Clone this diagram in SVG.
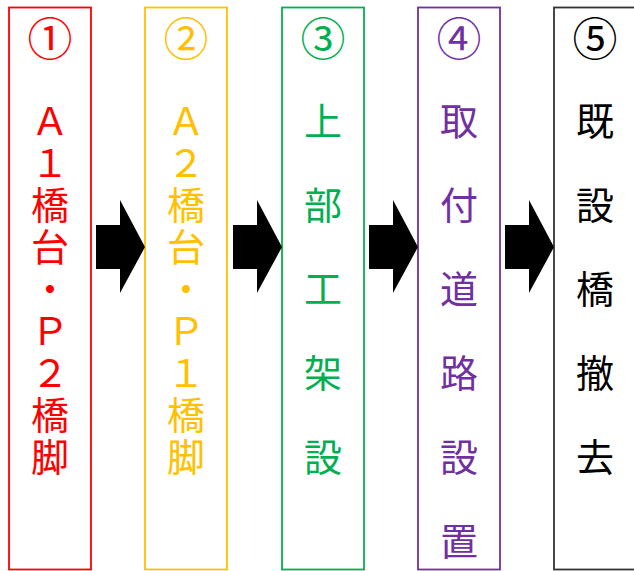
<svg xmlns="http://www.w3.org/2000/svg" width="634" height="571" viewBox="0 0 634 571">
<defs>
<style>
.box{fill:#fff;stroke-width:1.8}
.t{font-family:"Noto Sans CJK JP","Noto Sans CJK SC",sans-serif;font-size:38px;text-anchor:middle}
.n{font-size:45px}
.arrow{fill:#000}
</style>
<path id="arr" d="M0,225 H24 V200 L49,247 L24,293 V269 H0 Z"/>
</defs>
<rect width="634" height="571" fill="#fff"/>
<g id="step1">
<rect class="box" x="9" y="7.5" width="82" height="562" stroke="#FF0000"/>
<g class="t" fill="#FF0000">
<text class="n" x="50" y="56">①</text>
<text x="50" y="135">Ａ</text>
<text x="50" y="177">１</text>
<text x="50" y="219">橋</text>
<text x="50" y="261">台</text>
<text x="50" y="303">・</text>
<text x="50" y="345">Ｐ</text>
<text x="50" y="387">２</text>
<text x="50" y="429">橋</text>
<text x="50" y="471">脚</text>
</g>
</g>
<g id="step2">
<rect class="box" x="145" y="7.5" width="82" height="562" stroke="#FFC000"/>
<g class="t" fill="#FFC000">
<text class="n" x="186" y="56">②</text>
<text x="186" y="135">Ａ</text>
<text x="186" y="177">２</text>
<text x="186" y="219">橋</text>
<text x="186" y="261">台</text>
<text x="186" y="303">・</text>
<text x="186" y="345">Ｐ</text>
<text x="186" y="387">１</text>
<text x="186" y="429">橋</text>
<text x="186" y="471">脚</text>
</g>
</g>
<g id="step3">
<rect class="box" x="282" y="7.5" width="82" height="562" stroke="#00B050"/>
<g class="t" fill="#00B050">
<text class="n" x="323" y="56">③</text>
<text x="323" y="135">上</text>
<text x="323" y="219">部</text>
<text x="323" y="303">工</text>
<text x="323" y="387">架</text>
<text x="323" y="471">設</text>
</g>
</g>
<g id="step4">
<rect class="box" x="418" y="7.5" width="82" height="562" stroke="#7030A0"/>
<g class="t" fill="#7030A0">
<text class="n" x="459" y="56">④</text>
<text x="459" y="135">取</text>
<text x="459" y="219">付</text>
<text x="459" y="303">道</text>
<text x="459" y="387">路</text>
<text x="459" y="471">設</text>
<text x="459" y="555">置</text>
</g>
</g>
<g id="step5">
<rect class="box" x="554" y="7.5" width="82" height="562" stroke="#333333" stroke-width="2.2"/>
<g class="t" fill="#000">
<text class="n" x="595" y="56">⑤</text>
<text x="595" y="135">既</text>
<text x="595" y="219">設</text>
<text x="595" y="303">橋</text>
<text x="595" y="387">撤</text>
<text x="595" y="471">去</text>
</g>
</g>
<g id="connectors" class="arrow">
<use href="#arr" x="96"/>
<use href="#arr" x="233"/>
<use href="#arr" x="369"/>
<use href="#arr" x="505"/>
</g>
</svg>
